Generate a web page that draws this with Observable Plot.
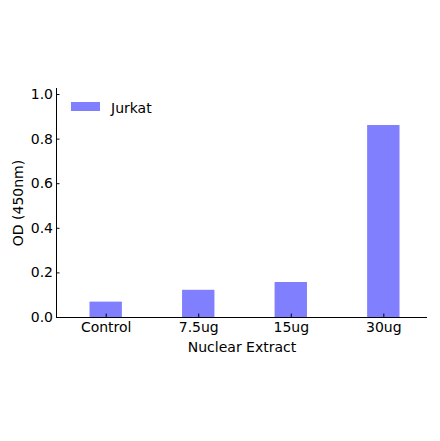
<!DOCTYPE html>
<html>
<head>
<meta charset="utf-8">
<script src="https://cdn.jsdelivr.net/npm/d3@7"></script>
<script src="https://cdn.jsdelivr.net/npm/@observablehq/plot@0.6"></script>
<style>
  html, body { margin: 0; padding: 0; background: #fff; }
  #wrap { position: relative; width: 440px; height: 441px; font-family: "DejaVu Sans", sans-serif; }
  #legend { position: absolute; left: 0; top: 0; }
  .sw { position: absolute; left: 71px; top: 102px; width: 29px; height: 9px; background: #8080ff; }
  .lt { position: absolute; left: 111px; top: 100.5px; font-size: 14px; line-height: 14px; color: #000; white-space: nowrap; }
</style>
</head>
<body>
<div id="wrap"></div>
<script>
const categories = ["Control", "7.5ug", "15ug", "30ug"];
const values = [0.069, 0.122, 0.157, 0.861];
const seriesName = "Jurkat";
const yTicks = [0, 0.2, 0.4, 0.6, 0.8, 1.0];
const xLabel = "Nuclear Extract";
const yLabel = "OD (450nm)";
const barColor = "#8080ff";

const data = categories.map((c, i) => ({i, category: c, value: values[i]}));
const xTicks = categories.map((c, i) => i);
const halfW = 0.175;
const xDomain = [-0.537, 3.472];

const chart = Plot.plot({
  width: 440,
  height: 441,
  marginLeft: 56,
  marginRight: 13,
  marginTop: 88,
  marginBottom: 124,
  style: {fontFamily: "DejaVu Sans", fontSize: "14px", background: "#fff", color: "#000"},
  x: {type: "linear", domain: xDomain},
  y: {domain: [0, 1.027]},
  marks: [
    Plot.rectY(data, {x1: d => d.i - halfW, x2: d => d.i + halfW, y1: 0, y2: "value", fill: barColor}),
    // tick labels
    Plot.axisY({ticks: yTicks, tickSize: 0, tickPadding: 3.5, tickFormat: d3.format(".1f"), label: null, fontSize: 14}),
    Plot.axisX({ticks: xTicks, tickSize: 0, tickPadding: 4.6, tickFormat: i => categories[i], label: null, fontSize: 14}),
    // inward tick marks
    Plot.axisY({ticks: yTicks, tickSize: 3.5, dx: 3.5, tickFormat: () => "", label: null, stroke: "#000"}),
    Plot.axisX({ticks: xTicks, tickSize: 3.5, dy: -3.5, tickFormat: () => "", label: null, stroke: "#000"}),
    // spines
    Plot.ruleX([xDomain[0]], {stroke: "#000", strokeWidth: 1}),
    Plot.ruleY([0], {stroke: "#000", strokeWidth: 1}),
    // axis titles
    Plot.text([yLabel], {frameAnchor: "left", textAnchor: "middle", lineAnchor: "middle", rotate: -90, dx: -38, fontSize: 14, fill: "#000"}),
    Plot.text([xLabel], {frameAnchor: "bottom", textAnchor: "middle", lineAnchor: "middle", dy: 29.9, fontSize: 14, fill: "#000"})
  ]
});

const wrap = document.getElementById("wrap");
wrap.appendChild(chart);
const legend = document.createElement("div");
legend.id = "legend";
legend.innerHTML = `<div class="sw"></div><div class="lt"></div>`;
legend.querySelector(".lt").textContent = seriesName;
legend.querySelector(".sw").style.background = barColor;
wrap.appendChild(legend);
</script>
</body>
</html>
